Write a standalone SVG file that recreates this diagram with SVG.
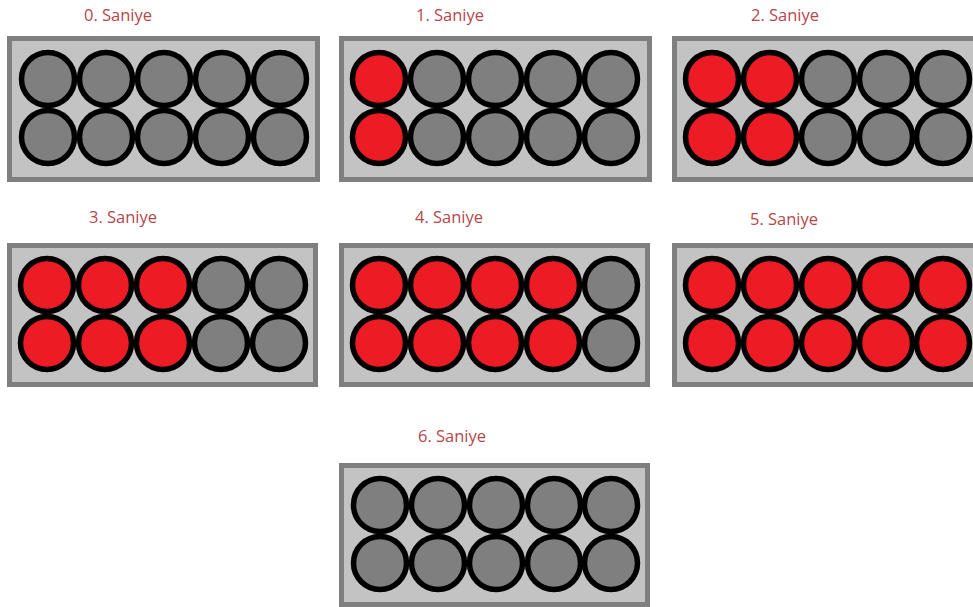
<svg xmlns="http://www.w3.org/2000/svg" xmlns:xlink="http://www.w3.org/1999/xlink" width="973" height="607" viewBox="0 0 973 607">
<style>
.bg{fill:#ffffff}
.box{fill:#c3c3c3;stroke:#7f7f7f;stroke-width:5}
.off{fill:#7f7f7f;stroke:#000;stroke-width:5.5}
.on{fill:#ed1c24;stroke:#000;stroke-width:5.5}
.lbl{font-family:"Open Sans","Liberation Sans",sans-serif;font-size:16.5px;fill:#b5474b;text-anchor:middle}
</style>
<defs>
<circle id="g" r="26.5" class="off"/>
<circle id="r" r="26.5" class="on"/>
</defs>
<rect class="bg" x="0" y="0" width="973" height="607"/>
<g id="panel0" transform="translate(7,36)">
<text class="lbl" x="111" y="-15">0. Saniye</text>
<rect class="box" x="2.5" y="2.5" width="308" height="141"/>
<use xlink:href="#g" x="41" y="43"/><use xlink:href="#g" x="99" y="43"/><use xlink:href="#g" x="157" y="43"/><use xlink:href="#g" x="215" y="43"/><use xlink:href="#g" x="273" y="43"/>
<use xlink:href="#g" x="41" y="101"/><use xlink:href="#g" x="99" y="101"/><use xlink:href="#g" x="157" y="101"/><use xlink:href="#g" x="215" y="101"/><use xlink:href="#g" x="273" y="101"/>
</g>
<g id="panel1" transform="translate(339,36)">
<text class="lbl" x="111" y="-15">1. Saniye</text>
<rect class="box" x="2.5" y="2.5" width="308" height="141"/>
<use xlink:href="#r" x="40" y="43"/><use xlink:href="#g" x="98" y="43"/><use xlink:href="#g" x="156" y="43"/><use xlink:href="#g" x="214" y="43"/><use xlink:href="#g" x="272" y="43"/>
<use xlink:href="#r" x="40" y="101"/><use xlink:href="#g" x="98" y="101"/><use xlink:href="#g" x="156" y="101"/><use xlink:href="#g" x="214" y="101"/><use xlink:href="#g" x="272" y="101"/>
</g>
<g id="panel2" transform="translate(672,36)">
<text class="lbl" x="113" y="-15">2. Saniye</text>
<rect class="box" x="2.5" y="2.5" width="308" height="141"/>
<use xlink:href="#r" x="40" y="43"/><use xlink:href="#r" x="98" y="43"/><use xlink:href="#g" x="156" y="43"/><use xlink:href="#g" x="214" y="43"/><use xlink:href="#g" x="271" y="43"/>
<use xlink:href="#r" x="40" y="101"/><use xlink:href="#r" x="98" y="101"/><use xlink:href="#g" x="156" y="101"/><use xlink:href="#g" x="214" y="101"/><use xlink:href="#g" x="271" y="101"/>
</g>
<g id="panel3" transform="translate(7,243)">
<text class="lbl" x="116" y="-20">3. Saniye</text>
<rect class="box" x="2.5" y="2.5" width="306" height="139"/>
<use xlink:href="#r" x="40" y="42"/><use xlink:href="#r" x="98" y="42"/><use xlink:href="#r" x="156" y="42"/><use xlink:href="#g" x="214" y="42"/><use xlink:href="#g" x="272" y="42"/>
<use xlink:href="#r" x="40" y="100"/><use xlink:href="#r" x="98" y="100"/><use xlink:href="#r" x="156" y="100"/><use xlink:href="#g" x="214" y="100"/><use xlink:href="#g" x="272" y="100"/>
</g>
<g id="panel4" transform="translate(339,243)">
<text class="lbl" x="110" y="-20">4. Saniye</text>
<rect class="box" x="2.5" y="2.5" width="306" height="139"/>
<use xlink:href="#r" x="40" y="42"/><use xlink:href="#r" x="98" y="42"/><use xlink:href="#r" x="156" y="42"/><use xlink:href="#r" x="214" y="42"/><use xlink:href="#g" x="272" y="42"/>
<use xlink:href="#r" x="40" y="100"/><use xlink:href="#r" x="98" y="100"/><use xlink:href="#r" x="156" y="100"/><use xlink:href="#r" x="214" y="100"/><use xlink:href="#g" x="272" y="100"/>
</g>
<g id="panel5" transform="translate(672,243)">
<text class="lbl" x="112" y="-18">5. Saniye</text>
<rect class="box" x="2.5" y="2.5" width="308" height="139"/>
<use xlink:href="#r" x="40" y="42"/><use xlink:href="#r" x="98" y="42"/><use xlink:href="#r" x="156" y="42"/><use xlink:href="#r" x="214" y="42"/><use xlink:href="#r" x="271" y="42"/>
<use xlink:href="#r" x="40" y="100"/><use xlink:href="#r" x="98" y="100"/><use xlink:href="#r" x="156" y="100"/><use xlink:href="#r" x="214" y="100"/><use xlink:href="#r" x="271" y="100"/>
</g>
<g id="panel6" transform="translate(339,463)">
<text class="lbl" x="113" y="-21">6. Saniye</text>
<rect class="box" x="2.5" y="2.5" width="306" height="139"/>
<use xlink:href="#g" x="41" y="42"/><use xlink:href="#g" x="99" y="42"/><use xlink:href="#g" x="157" y="42"/><use xlink:href="#g" x="215" y="42"/><use xlink:href="#g" x="272" y="42"/>
<use xlink:href="#g" x="41" y="100"/><use xlink:href="#g" x="99" y="100"/><use xlink:href="#g" x="157" y="100"/><use xlink:href="#g" x="215" y="100"/><use xlink:href="#g" x="272" y="100"/>
</g>
<g id="connectors"/>
</svg>
